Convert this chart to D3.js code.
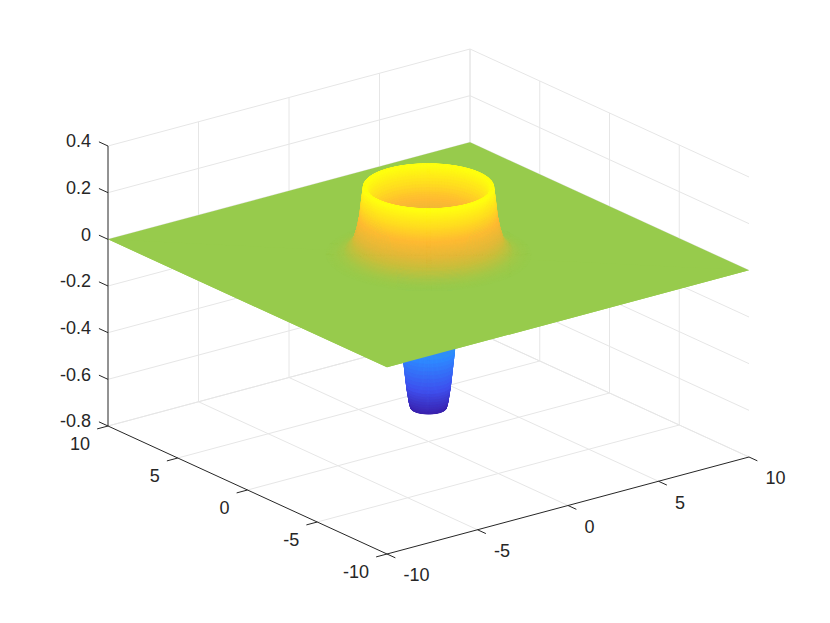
<!DOCTYPE html>
<html>
<head>
<meta charset="utf-8">
<script src="https://cdn.jsdelivr.net/npm/d3@7"></script>
<style>
  body { margin: 0; background: #fff; }
  text { font-family: "Liberation Sans", Arial, sans-serif; font-size: 18px; fill: #262626; }
</style>
</head>
<body>
<div id="chart"></div>
<script>
// values
const xTicks = [-10, -5, 0, 5, 10];
const yTicks = [-10, -5, 0, 5, 10];
const zTicks = [-0.8, -0.6, -0.4, -0.2, 0, 0.2, 0.4];
const zTickLabels = ["-0.8", "-0.6", "-0.4", "-0.2", "0", "0.2", "0.4"];

// radial profile of the surface, z as a function of distance from the origin
const radii = [0, 0.78, 0.85, 0.95, 1.0, 1.14, 1.25, 1.35, 1.5, 1.75, 2.0, 2.2, 2.4, 2.6, 2.75, 2.85, 2.92, 3.02, 3.14, 3.32, 3.7, 4.1, 4.5];
const heights = [-0.655, -0.655, -0.63, -0.57, -0.53, -0.41, -0.25, -0.1, 0.03, 0.09, 0.12, 0.155, 0.195, 0.255, 0.292, 0.292, 0.24, 0.16, 0.105, 0.05, 0.015, 0.004, 0];

// colormap stops
const colorLevels = [-0.655, -0.55, -0.42, -0.2, 0, 0.05, 0.1, 0.16, 0.22, 0.29];
const colorValues = ["#3b22ad", "#3f52ee", "#2e88ff", "#35c0c0", "#97cb4c", "#c6bf3c", "#e5b838", "#ffba32", "#ffdc20", "#ffff10"];

const planeColor = "#97cb4c";

const width = 830, height = 623;

// orthographic view: each data axis moves the pixel position along a fixed direction
const xToPx = d3.scaleLinear().domain([-10, 10]).range([0, 362]);
const xToPy = d3.scaleLinear().domain([-10, 10]).range([0, -97]);
const yToPx = d3.scaleLinear().domain([-10, 10]).range([0, -279]);
const yToPy = d3.scaleLinear().domain([-10, 10]).range([0, -128]);
const zToPy = d3.scaleLinear().domain([-0.8, 0.4]).range([0, -280]);
const origin = [387, 554];

function project(x, y, z) {
  return [origin[0] + xToPx(x) + yToPx(y),
          origin[1] + xToPy(x) + yToPy(y) + zToPy(z)];
}

// bigger = further from the viewer
function depth(x, y, z) {
  return 0.936 * (0.604 * x + 0.797 * y) - 0.351 * 10.9 * z;
}

const profile = d3.scaleLinear().domain(radii).range(heights);
const color = d3.scaleLinear().domain(colorLevels).range(colorValues).clamp(true);
const line = d3.line();

const svg = d3.select("#chart").append("svg")
    .attr("width", width)
    .attr("height", height);

// grid on the back walls and the floor
const grid = svg.append("g")
    .attr("fill", "none")
    .attr("stroke", "#e6e6e6")
    .attr("stroke-width", 1);

function addGrid(a, b) {
  grid.append("path").attr("d", line([project(...a), project(...b)]));
}

xTicks.slice(1).forEach(x => {
  addGrid([x, -10, -0.8], [x, 10, -0.8]);
  addGrid([x, 10, -0.8], [x, 10, 0.4]);
});
yTicks.slice(1).forEach(y => {
  addGrid([-10, y, -0.8], [10, y, -0.8]);
  addGrid([10, y, -0.8], [10, y, 0.4]);
});
zTicks.forEach(z => {
  addGrid([-10, 10, z], [10, 10, z]);
  addGrid([10, 10, z], [10, -10, z]);
});

// surface: whole plane first, polar mesh on top, then the front half of the
// plane again so it hides the part of the dip that is behind it
const outerR = radii[radii.length - 1];
const deg = Math.PI / 180;

function frontPlane() {
  const pts = [[10, -10], [-10, -10], [-10, 10]].map(c => project(c[0], c[1], 0));
  d3.range(135, 316, 2).forEach(a => {
    pts.push(project(outerR * Math.cos(a * deg), outerR * Math.sin(a * deg), 0));
  });
  return line(pts) + "Z";
}

const surface = svg.append("g");

surface.append("path")
    .attr("d", line([[-10, -10], [10, -10], [10, 10], [-10, 10]].map(c => project(c[0], c[1], 0))) + "Z")
    .attr("fill", planeColor);

// rings are packed tighter where the surface is steep
const ringR = d3.range(0, 0.7, 0.1)
    .concat(d3.range(0.7, 1.4, 0.02))
    .concat(d3.range(1.4, 2.6, 0.04))
    .concat(d3.range(2.6, 3.3, 0.008))
    .concat(d3.range(3.3, outerR, 0.04))
    .concat([outerR]);
const angleStep = 3;
const angles = d3.range(0, 360, angleStep);
const quads = [];

for (let i = 0; i < ringR.length - 1; i++) {
  const r0 = ringR[i], r1 = ringR[i + 1];
  const z0 = profile(r0), z1 = profile(r1);
  angles.forEach(a => {
    const a0 = a * deg, a1 = (a + angleStep) * deg;
    const corners = [
      [r0 * Math.cos(a0), r0 * Math.sin(a0), z0],
      [r1 * Math.cos(a0), r1 * Math.sin(a0), z1],
      [r1 * Math.cos(a1), r1 * Math.sin(a1), z1],
      [r0 * Math.cos(a1), r0 * Math.sin(a1), z0]
    ];
    quads.push({
      d: line(corners.map(c => project(...c))) + "Z",
      depth: d3.mean(corners, c => depth(...c)),
      fill: color((z0 + z1) / 2)
    });
  });
}

quads.sort((a, b) => b.depth - a.depth);

surface.selectAll("path.cell")
  .data(quads)
  .join("path")
    .attr("class", "cell")
    .attr("d", d => d.d)
    .attr("fill", d => d.fill)
    .attr("stroke", d => d.fill)
    .attr("stroke-width", 0.5);

surface.append("path")
    .attr("d", frontPlane())
    .attr("fill", planeColor);

// axes
const axes = svg.append("g")
    .attr("fill", "none")
    .attr("stroke", "#262626")
    .attr("stroke-width", 1);

function addAxisLine(a, b) {
  axes.append("path").attr("d", line([project(...a), project(...b)]));
}

addAxisLine([-10, 10, -0.8], [-10, 10, 0.4]);
addAxisLine([-10, -10, -0.8], [-10, 10, -0.8]);
addAxisLine([-10, -10, -0.8], [10, -10, -0.8]);

zTicks.forEach(z => addAxisLine([-10, 10, z], [-10, 10.65, z]));
yTicks.forEach(y => addAxisLine([-10, y, -0.8], [-10.6, y, -0.8]));
xTicks.forEach(x => addAxisLine([x, -10, -0.8], [x, -10.6, -0.8]));

// tick labels
svg.append("g").selectAll("text")
  .data(zTicks)
  .join("text")
    .attr("x", d => project(-10, 10, d)[0] - 17)
    .attr("y", d => project(-10, 10, d)[1] - 5)
    .attr("dy", "0.35em")
    .attr("text-anchor", "end")
    .text((d, i) => zTickLabels[i]);

svg.append("g").selectAll("text")
  .data(yTicks)
  .join("text")
    .attr("x", d => project(-10, d, -0.8)[0] - 18)
    .attr("y", d => project(-10, d, -0.8)[1] + 17.5)
    .attr("dy", "0.35em")
    .attr("text-anchor", "end")
    .text(d => d);

svg.append("g").selectAll("text")
  .data(xTicks)
  .join("text")
    .attr("x", d => project(d, -10, -0.8)[0] + 16.5)
    .attr("y", d => project(d, -10, -0.8)[1] + 21)
    .attr("dy", "0.35em")
    .attr("text-anchor", "start")
    .text(d => d);
</script>
</body>
</html>
